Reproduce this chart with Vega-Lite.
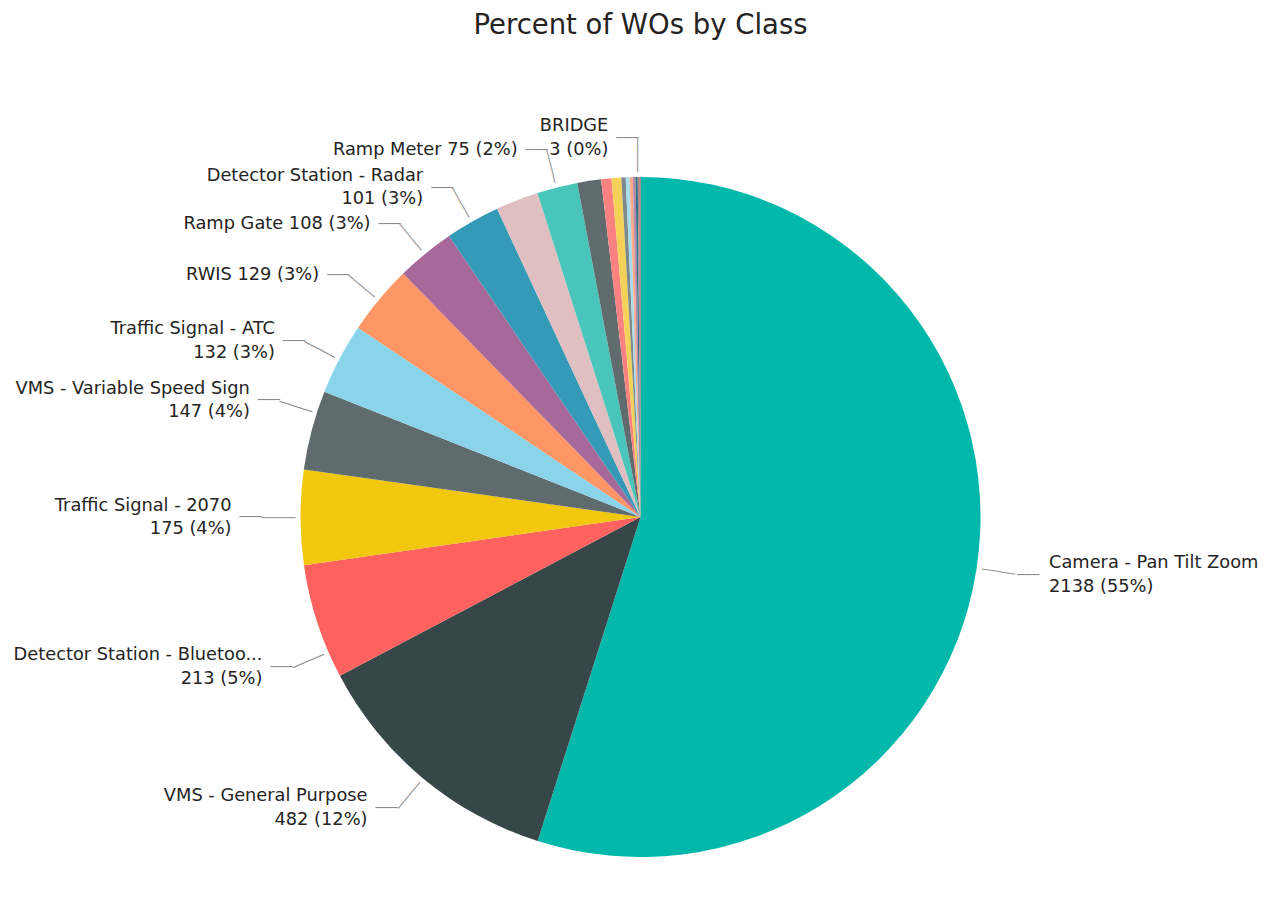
{
  "$schema": "https://vega.github.io/schema/vega-lite/v6.json",
  "width": 1281,
  "height": 768,
  "autosize": {"type": "none"},
  "padding": {"top": 133, "left": 0, "right": 0, "bottom": 0},
  "background": "white",
  "title": {"text": "Percent of WOs by Class", "fontSize": 27.5, "font": "DejaVu Sans", "fontWeight": "normal", "color": "#252423", "anchor": "middle", "offset": 78},
  "config": {"view": {"stroke": null}},
  "data": {"values": [
    {"Class": "Camera - Pan Tilt Zoom", "Count": 2138, "label": ["Camera - Pan Tilt Zoom", "2138 (55%)"]},
    {"Class": "VMS - General Purpose", "Count": 482, "label": ["VMS - General Purpose", "482 (12%)"]},
    {"Class": "Detector Station - Bluetooth", "Count": 213, "label": ["Detector Station - Bluetoo...", "213 (5%)"]},
    {"Class": "Traffic Signal - 2070", "Count": 175, "label": ["Traffic Signal - 2070", "175 (4%)"]},
    {"Class": "VMS - Variable Speed Sign", "Count": 147, "label": ["VMS - Variable Speed Sign", "147 (4%)"]},
    {"Class": "Traffic Signal - ATC", "Count": 132, "label": ["Traffic Signal - ATC", "132 (3%)"]},
    {"Class": "RWIS", "Count": 129, "label": "RWIS 129 (3%)"},
    {"Class": "Ramp Gate", "Count": 108, "label": "Ramp Gate 108 (3%)"},
    {"Class": "Detector Station - Radar", "Count": 101, "label": ["Detector Station - Radar", "101 (3%)"]},
    {"Class": "Unlabeled class 1", "Count": 79, "label": ""},
    {"Class": "Ramp Meter", "Count": 75, "label": "Ramp Meter 75 (2%)"},
    {"Class": "Unlabeled class 2", "Count": 44, "label": ""},
    {"Class": "Unlabeled class 3", "Count": 19, "label": ""},
    {"Class": "Unlabeled class 4", "Count": 18, "label": ""},
    {"Class": "Unlabeled class 5", "Count": 8, "label": ""},
    {"Class": "Unlabeled class 6", "Count": 7, "label": ""},
    {"Class": "Unlabeled class 7", "Count": 6, "label": ""},
    {"Class": "Unlabeled class 8", "Count": 5, "label": ""},
    {"Class": "Unlabeled class 9", "Count": 4, "label": ""},
    {"Class": "BRIDGE", "Count": 3, "label": ["BRIDGE", "3 (0%)"]},
    {"Class": "Unlabeled class 10", "Count": 2, "label": ""}
  ]},
  "encoding": {
    "theta": {"field": "Count", "type": "quantitative", "stack": true},
    "order": {"field": "Count", "type": "quantitative", "sort": "descending"}
  },
  "layer": [
    {
      "mark": {"type": "arc", "radius": 340},
      "encoding": {
        "color": {
          "field": "Class", "type": "nominal", "legend": null,
          "scale": {
            "domain": ["Camera - Pan Tilt Zoom", "VMS - General Purpose", "Detector Station - Bluetooth", "Traffic Signal - 2070", "VMS - Variable Speed Sign", "Traffic Signal - ATC", "RWIS", "Ramp Gate", "Detector Station - Radar", "Unlabeled class 1", "Ramp Meter", "Unlabeled class 2", "Unlabeled class 3", "Unlabeled class 4", "Unlabeled class 5", "Unlabeled class 6", "Unlabeled class 7", "Unlabeled class 8", "Unlabeled class 9", "BRIDGE", "Unlabeled class 10"],
            "range": ["#01B8AA", "#374649", "#FD625E", "#F2C80F", "#5F6B6D", "#8AD4EB", "#FE9666", "#A66999", "#3599B8", "#DFBFBF", "#4AC5BB", "#5F6B6D", "#FB8281", "#F4D25A", "#7F898A", "#A4DDEE", "#FDAB89", "#B687AC", "#28738A", "#A78F8F", "#BB4A4A"]
          }
        }
      }
    },
    {
      "mark": {"type": "text", "radius": 379, "dx": -30, "dy": -11.75, "align": "right", "baseline": "middle", "font": "DejaVu Sans", "fontSize": 17.8, "lineHeight": 23.5, "color": "#252423"},
      "encoding": {"text": {"condition": {"test": "datum.Class === 'VMS - General Purpose' || datum.Class === 'Traffic Signal - 2070' || datum.Class === 'Traffic Signal - ATC' || datum.Class === 'Detector Station - Radar' || datum.Class === 'BRIDGE'", "field": "label", "type": "nominal"}, "value": ""}}
    },
    {
      "mark": {"type": "text", "radius": 379, "dx": -30, "align": "right", "baseline": "middle", "font": "DejaVu Sans", "fontSize": 17.8, "lineHeight": 23.5, "color": "#252423"},
      "encoding": {"text": {"condition": {"test": "datum.Class === 'RWIS' || datum.Class === 'Ramp Gate' || datum.Class === 'Ramp Meter'", "field": "label", "type": "nominal"}, "value": ""}}
    },
    {
      "mark": {"type": "text", "radius": 379, "thetaOffset": -0.0925, "dx": -30, "dy": -11.75, "align": "right", "baseline": "middle", "font": "DejaVu Sans", "fontSize": 17.8, "lineHeight": 23.5, "color": "#252423"},
      "encoding": {"text": {"condition": {"test": "datum.Class === 'Detector Station - Bluetooth'", "field": "label", "type": "nominal"}, "value": ""}}
    },
    {
      "mark": {"type": "text", "radius": 379, "thetaOffset": 0.054, "dx": -30, "dy": -11.75, "align": "right", "baseline": "middle", "font": "DejaVu Sans", "fontSize": 17.8, "lineHeight": 23.5, "color": "#252423"},
      "encoding": {"text": {"condition": {"test": "datum.Class === 'VMS - Variable Speed Sign'", "field": "label", "type": "nominal"}, "value": ""}}
    },
    {
      "mark": {"type": "text", "radius": 379, "dx": 34, "dy": -11.75, "align": "left", "baseline": "middle", "font": "DejaVu Sans", "fontSize": 17.8, "lineHeight": 23.5, "color": "#252423"},
      "encoding": {"text": {"condition": {"test": "datum.Class === 'Camera - Pan Tilt Zoom'", "field": "label", "type": "nominal"}, "value": ""}}
    },
    {
      "mark": {"type": "text", "radius": 379, "dx": -11, "align": "center", "baseline": "middle", "font": "DejaVu Sans Mono", "fontSize": 12.2, "color": "#8c8c8c"},
      "encoding": {"text": {"condition": {"test": "datum.Class === 'VMS - General Purpose' || datum.Class === 'Traffic Signal - 2070' || datum.Class === 'Traffic Signal - ATC' || datum.Class === 'RWIS' || datum.Class === 'Ramp Gate' || datum.Class === 'Detector Station - Radar' || datum.Class === 'Ramp Meter' || datum.Class === 'BRIDGE'", "value": "───"}, "value": ""}}
    },
    {
      "mark": {"type": "text", "radius": 379, "thetaOffset": -0.0925, "dx": -11, "align": "center", "baseline": "middle", "font": "DejaVu Sans Mono", "fontSize": 12.2, "color": "#8c8c8c"},
      "encoding": {"text": {"condition": {"test": "datum.Class === 'Detector Station - Bluetooth'", "value": "───"}, "value": ""}}
    },
    {
      "mark": {"type": "text", "radius": 379, "thetaOffset": 0.054, "dx": -11, "align": "center", "baseline": "middle", "font": "DejaVu Sans Mono", "fontSize": 12.2, "color": "#8c8c8c"},
      "encoding": {"text": {"condition": {"test": "datum.Class === 'VMS - Variable Speed Sign'", "value": "───"}, "value": ""}}
    },
    {
      "mark": {"type": "text", "radius": 379, "dx": 13, "align": "center", "baseline": "middle", "font": "DejaVu Sans Mono", "fontSize": 12.2, "color": "#8c8c8c"},
      "encoding": {"text": {"condition": {"test": "datum.Class === 'Camera - Pan Tilt Zoom'", "value": "───"}, "value": ""}}
    },
    {
      "mark": {"type": "text", "radius": 362, "angle": 8.8, "align": "center", "baseline": "middle", "font": "DejaVu Sans Mono", "fontSize": 11.3, "color": "#8c8c8c"},
      "encoding": {"text": {"condition": {"test": "datum.Class === 'Camera - Pan Tilt Zoom'", "value": "─────"}, "value": ""}}
    },
    {
      "mark": {"type": "text", "radius": 362, "angle": 129.9, "align": "center", "baseline": "middle", "font": "DejaVu Sans Mono", "fontSize": 11.3, "color": "#8c8c8c"},
      "encoding": {"text": {"condition": {"test": "datum.Class === 'VMS - General Purpose'", "value": "─────"}, "value": ""}}
    },
    {
      "mark": {"type": "text", "radius": 362, "thetaOffset": -0.0925, "angle": 156.7, "align": "center", "baseline": "middle", "font": "DejaVu Sans Mono", "fontSize": 11.3, "color": "#8c8c8c"},
      "encoding": {"text": {"condition": {"test": "datum.Class === 'Detector Station - Bluetooth'", "value": "─────"}, "value": ""}}
    },
    {
      "mark": {"type": "text", "radius": 362, "angle": 180, "align": "center", "baseline": "middle", "font": "DejaVu Sans Mono", "fontSize": 11.3, "color": "#8c8c8c"},
      "encoding": {"text": {"condition": {"test": "datum.Class === 'Traffic Signal - 2070'", "value": "─────"}, "value": ""}}
    },
    {
      "mark": {"type": "text", "radius": 362, "thetaOffset": 0.054, "angle": 197.9, "align": "center", "baseline": "middle", "font": "DejaVu Sans Mono", "fontSize": 11.3, "color": "#8c8c8c"},
      "encoding": {"text": {"condition": {"test": "datum.Class === 'VMS - Variable Speed Sign'", "value": "─────"}, "value": ""}}
    },
    {
      "mark": {"type": "text", "radius": 362, "angle": 207.7, "align": "center", "baseline": "middle", "font": "DejaVu Sans Mono", "fontSize": 11.3, "color": "#8c8c8c"},
      "encoding": {"text": {"condition": {"test": "datum.Class === 'Traffic Signal - ATC'", "value": "─────"}, "value": ""}}
    },
    {
      "mark": {"type": "text", "radius": 362, "angle": 219.8, "align": "center", "baseline": "middle", "font": "DejaVu Sans Mono", "fontSize": 11.3, "color": "#8c8c8c"},
      "encoding": {"text": {"condition": {"test": "datum.Class === 'RWIS'", "value": "─────"}, "value": ""}}
    },
    {
      "mark": {"type": "text", "radius": 362, "angle": 230.7, "align": "center", "baseline": "middle", "font": "DejaVu Sans Mono", "fontSize": 11.3, "color": "#8c8c8c"},
      "encoding": {"text": {"condition": {"test": "datum.Class === 'Ramp Gate'", "value": "─────"}, "value": ""}}
    },
    {
      "mark": {"type": "text", "radius": 362, "angle": 240.4, "align": "center", "baseline": "middle", "font": "DejaVu Sans Mono", "fontSize": 11.3, "color": "#8c8c8c"},
      "encoding": {"text": {"condition": {"test": "datum.Class === 'Detector Station - Radar'", "value": "─────"}, "value": ""}}
    },
    {
      "mark": {"type": "text", "radius": 362, "angle": 255.8, "align": "center", "baseline": "middle", "font": "DejaVu Sans Mono", "fontSize": 11.3, "color": "#8c8c8c"},
      "encoding": {"text": {"condition": {"test": "datum.Class === 'Ramp Meter'", "value": "─────"}, "value": ""}}
    },
    {
      "mark": {"type": "text", "radius": 362, "angle": 269.7, "align": "center", "baseline": "middle", "font": "DejaVu Sans Mono", "fontSize": 11.3, "color": "#8c8c8c"},
      "encoding": {"text": {"condition": {"test": "datum.Class === 'BRIDGE'", "value": "─────"}, "value": ""}}
    }
  ]
}
